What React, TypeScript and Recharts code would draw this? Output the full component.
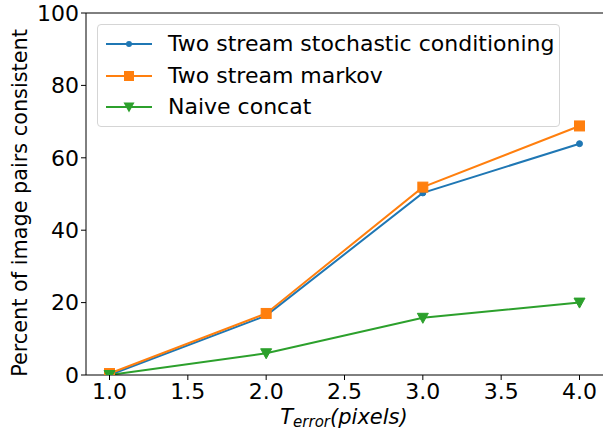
import React from "react";
import { LineChart, Line, XAxis, YAxis, ReferenceLine, Legend } from "recharts";

const xValues = [1, 2, 3, 4];
const stochastic = [0, 16.4, 50.3, 63.9];
const markov = [0.4, 17.0, 51.9, 68.8];
const naive = [0, 6.0, 15.8, 20.0];
const xTicks = [1, 1.5, 2, 2.5, 3, 3.5, 4];
const yTicks = [0, 20, 40, 60, 80, 100];
const seriesNames = ["Two stream stochastic conditioning", "Two stream markov", "Naive concat"];

const data = xValues.map((x, i) => ({ x, s: stochastic[i], m: markov[i], n: naive[i] }));

const BLUE = "#1f77b4";
const ORANGE = "#ff7f0e";
const GREEN = "#2ca02c";
const FONT = "DejaVu Sans";
const FS = 22;

const DotMarker = (props: any) => {
  const { cx, cy } = props;
  if (cx == null || cy == null) return null;
  return <circle key={`d${cx}`} cx={cx} cy={cy} r={3} fill={BLUE} stroke={BLUE} />;
};
const SquareMarker = (props: any) => {
  const { cx, cy } = props;
  if (cx == null || cy == null) return null;
  return <rect key={`s${cx}`} x={cx - 5} y={cy - 5} width={10} height={10} fill={ORANGE} stroke={ORANGE} />;
};
const TriMarker = (props: any) => {
  const { cx, cy } = props;
  if (cx == null || cy == null) return null;
  return (
    <polygon
      key={`t${cx}`}
      points={`${cx - 5.5},${cy - 4.5} ${cx + 5.5},${cy - 4.5} ${cx},${cy + 5.5}`}
      fill={GREEN}
      stroke={GREEN}
    />
  );
};

const legendItems = [
  { name: seriesNames[0], color: BLUE, kind: "dot" },
  { name: seriesNames[1], color: ORANGE, kind: "square" },
  { name: seriesNames[2], color: GREEN, kind: "tri" },
];

const LegendContent = () => (
  <div
    style={{
      position: "absolute",
      left: 97,
      top: 24,
      width: 461,
      height: 101,
      border: "1px solid #d5d5d5",
      borderRadius: 4,
      background: "rgba(255,255,255,0.8)",
      fontFamily: FONT,
      fontSize: FS,
      color: "#000",
    }}
  >
    {legendItems.map((it, i) => (
      <div
        key={it.name}
        style={{ position: "absolute", left: 0, top: 6 + i * 31.5, height: 26, display: "flex", alignItems: "center" }}
      >
        <svg width={70} height={26} style={{ display: "block" }}>
          <line x1={8} x2={54} y1={13} y2={13} stroke={it.color} strokeWidth={2} />
          {it.kind === "dot" && <circle cx={31} cy={13} r={3} fill={it.color} />}
          {it.kind === "square" && <rect x={26} y={8} width={10} height={10} fill={it.color} />}
          {it.kind === "tri" && <polygon points="25.5,8.5 36.5,8.5 31,18.5" fill={it.color} />}
        </svg>
        <span style={{ whiteSpace: "nowrap", lineHeight: "26px" }}>{it.name}</span>
      </div>
    ))}
  </div>
);

export default function App() {
  return (
    <div style={{ position: "fixed", left: 0, top: 0, width: 603, height: 432, background: "#fff" }}>
      <LineChart width={603} height={432} data={data} margin={{ top: 13, right: 0, bottom: 0, left: 0 }}>
        <XAxis
          dataKey="x"
          type="number"
          domain={[0.85, 4.15]}
          ticks={xTicks}
          allowDataOverflow
          tickFormatter={(v: number) => v.toFixed(1)}
          tick={{ fill: "#000", fontSize: FS, fontFamily: FONT }}
          tickSize={5}
          tickMargin={3}
          stroke="#000"
          height={57}
          label={{
            content: () => (
              <text x={344} y={424} textAnchor="middle" fontFamily={FONT} fontStyle="italic" fontSize={21} fill="#000">
                <tspan>T</tspan>
                <tspan fontSize={15} dy={3}>error</tspan>
                <tspan fontSize={21} dy={-3}>(pixels)</tspan>
              </text>
            ),
          }}
        />
        <YAxis
          type="number"
          domain={[0, 100]}
          ticks={yTicks}
          allowDataOverflow
          tick={{ fill: "#000", fontSize: FS, fontFamily: FONT }}
          tickSize={5}
          tickMargin={2}
          stroke="#000"
          width={86}
          label={{
            content: () => (
              <text
                x={20}
                y={203}
                textAnchor="middle"
                dominantBaseline="central"
                transform="rotate(-90 20 203)"
                fontFamily={FONT}
                fontSize={20.8}
                fill="#000"
              >
                Percent of image pairs consistent
              </text>
            ),
          }}
        />
        <ReferenceLine y={100} stroke="#000" strokeWidth={1} ifOverflow="visible" />
        <Legend content={<LegendContent />} wrapperStyle={{ position: "absolute", left: 0, top: 0, width: 0, height: 0 }} />
        <Line
          dataKey="s"
          name={seriesNames[0]}
          stroke={BLUE}
          strokeWidth={2}
          dot={<DotMarker />}
          activeDot={false}
          isAnimationActive={false}
        />
        <Line
          dataKey="m"
          name={seriesNames[1]}
          stroke={ORANGE}
          strokeWidth={2}
          dot={<SquareMarker />}
          activeDot={false}
          isAnimationActive={false}
        />
        <Line
          dataKey="n"
          name={seriesNames[2]}
          stroke={GREEN}
          strokeWidth={2}
          dot={<TriMarker />}
          activeDot={false}
          isAnimationActive={false}
        />
      </LineChart>
    </div>
  );
}
